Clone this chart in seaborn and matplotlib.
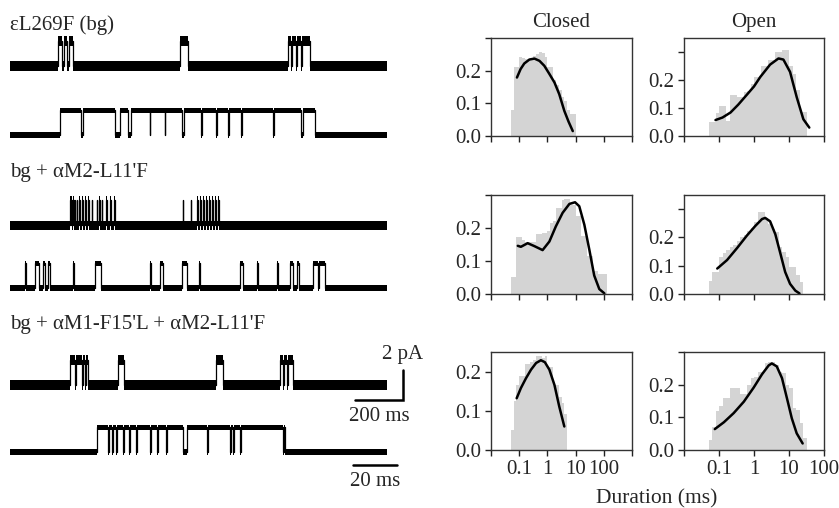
import numpy as np
import matplotlib
matplotlib.use('Agg')
import matplotlib.pyplot as plt
import seaborn as sns

# ---- 单通道记录：开放区间 (ms)，电流幅度 (pA) ----
amp = 1.65
slow_len = 1570
fast_len = 171

row_labels = ['εL269F (bg)', "bg + αM2-L11'F", "bg + αM1-F15'L + αM2-L11'F"]

wt_slow = [(200, 217), (223, 237), (244, 262), (708, 741),
           (1158, 1170), (1176, 1191), (1197, 1212), (1218, 1249)]
wt_fast = [(22.7, 32.2), (32.9, 47.6), (50.1, 53.5), (54.9, 63.3), (63.7, 70.1),
           (70.5, 78.0), (78.7, 86.6), (87.3, 93.4), (94.1, 98.9), (99.3, 104.8),
           (105.2, 119.3), (119.7, 132.0), (132.7, 138.3)]

m2_slow_starts = [250, 255, 262, 269, 278, 289, 300, 314, 326, 340, 361, 371, 382, 400,
                  416, 433, 719, 752, 780, 791, 805, 816, 830, 841, 854, 867]
m2_slow = [(t, t + 3) for t in m2_slow_starts]
m2_fast = [(6.8, 7.2), (11.3, 13.3), (14.8, 15.9), (17.1, 18.1), (28.7, 29.1),
           (38.6, 41.1), (63.5, 63.9), (68.0, 69.3), (77.9, 80.2), (85.9, 86.3),
           (104.3, 105.6), (111.9, 112.3), (121.0, 121.4), (127.0, 128.5),
           (130.1, 131.1), (137.6, 139.9), (140.3, 142.9)]

m1m2_slow = [(250, 271), (275, 299), (303, 312), (317, 326), (451, 476), (858, 886),
             (1124, 1138), (1142, 1155), (1159, 1180)]
m1m2_fast = [(39.5, 44.6), (45.1, 46.1), (46.6, 48.0), (48.4, 51.1), (51.6, 54.1),
             (54.6, 57.2), (57.6, 63.5), (64.0, 66.8), (67.3, 70.6), (71.1, 78.3),
             (80.2, 89.2), (89.7, 99.8), (100.3, 101.3), (101.8, 104.3), (104.8, 123.7),
             (124.2, 124.7)]

# ---- 驻留时间直方图：log10(ms) 起点，0.1 decade 分箱 ----
bin_w = 0.1
closed1_start, closed1_h = -1.3, [0.08, 0.21, 0.21, 0.243, 0.24, 0.235, 0.235, 0.24, 0.245, 0.25,
                                  0.256, 0.255, 0.243, 0.21, 0.21, 0.17, 0.155, 0.14, 0.12, 0.107,
                                  0.08, 0.067, 0.067]
open1_start, open1_h = -1.3, [0.05, 0.05, 0.082, 0.108, 0.108, 0.055, 0.145, 0.145, 0.138, 0.138,
                              0.157, 0.16, 0.184, 0.21, 0.21, 0.25, 0.25, 0.27, 0.272, 0.30,
                              0.30, 0.307, 0.307, 0.25, 0.223, 0.163, 0.084, 0.084]
closed2_start, closed2_h = -1.3, [0.05, 0.05, 0.172, 0.172, 0.165, 0.157, 0.157, 0.157, 0.157, 0.182,
                                  0.182, 0.184, 0.184, 0.19, 0.215, 0.22, 0.26, 0.26, 0.285, 0.288,
                                  0.288, 0.27, 0.27, 0.235, 0.235, 0.175, 0.175, 0.115, 0.115, 0.07,
                                  0.07, 0.06, 0.06, 0.06]
open2_start, open2_h = -1.3, [0.045, 0.079, 0.079, 0.13, 0.145, 0.155, 0.165, 0.175, 0.188, 0.2,
                              0.21, 0.224, 0.235, 0.253, 0.29, 0.29, 0.267, 0.247, 0.23, 0.22,
                              0.167, 0.15, 0.13, 0.096, 0.096, 0.067, 0.041]
closed3_start, closed3_h = -1.3, [0.05, 0.125, 0.165, 0.19, 0.19, 0.22, 0.22, 0.225, 0.23, 0.239,
                                  0.239, 0.235, 0.239, 0.212, 0.212, 0.165, 0.165, 0.136, 0.12, 0.093]
open3_start, open3_h = -1.3, [0.03, 0.07, 0.118, 0.135, 0.16, 0.16, 0.19, 0.19, 0.19, 0.17,
                              0.17, 0.2, 0.22, 0.225, 0.24, 0.24, 0.265, 0.268, 0.268, 0.26,
                              0.24, 0.235, 0.2, 0.19, 0.129, 0.123, 0.082, 0.036]

# 拟合曲线 (log10 ms, 概率)
closed1_fx = [-1.08, -0.95, -0.82, -0.64, -0.46, -0.28, -0.11, 0.07, 0.25, 0.42, 0.60, 0.75, 0.90]
closed1_fy = [0.179, 0.205, 0.222, 0.234, 0.237, 0.23, 0.215, 0.19, 0.164, 0.128, 0.077, 0.044, 0.015]
open1_fx = [-1.10, -0.9, -0.67, -0.45, -0.2, 0.0, 0.18, 0.46, 0.70, 0.84, 1.03, 1.22, 1.41, 1.58]
open1_fy = [0.057, 0.066, 0.084, 0.112, 0.148, 0.177, 0.211, 0.255, 0.277, 0.273, 0.229, 0.139, 0.06, 0.03]
closed2_fx = [-1.05, -0.94, -0.70, -0.46, -0.17, 0.07, 0.30, 0.54, 0.78, 0.98, 1.13, 1.31, 1.49, 1.66, 1.84, 2.02]
closed2_fy = [0.146, 0.143, 0.154, 0.145, 0.133, 0.159, 0.205, 0.246, 0.273, 0.278, 0.266, 0.21, 0.133, 0.056, 0.015, 0.002]
open2_fx = [-1.05, -0.77, -0.48, -0.20, 0.04, 0.23, 0.32, 0.46, 0.61, 0.75, 0.89, 1.03, 1.18, 1.30]
open2_fy = [0.09, 0.12, 0.163, 0.207, 0.241, 0.265, 0.269, 0.257, 0.211, 0.145, 0.078, 0.036, 0.012, 0.002]
closed3_fx = [-1.09, -0.94, -0.76, -0.58, -0.40, -0.23, -0.09, 0.07, 0.25, 0.42, 0.60]
closed3_fy = [0.132, 0.158, 0.183, 0.205, 0.222, 0.229, 0.224, 0.205, 0.166, 0.111, 0.06]
open3_fx = [-1.12, -0.86, -0.58, -0.29, -0.01, 0.23, 0.42, 0.51, 0.65, 0.80, 0.94, 1.08, 1.22, 1.39]
open3_fy = [0.064, 0.085, 0.113, 0.148, 0.191, 0.232, 0.259, 0.265, 0.256, 0.22, 0.159, 0.097, 0.051, 0.02]

# ---- 样式 ----
sns.set_style("ticks")
plt.rcParams['font.family'] = ['Liberation Serif', 'DejaVu Serif']
plt.rcParams['mathtext.fontset'] = 'stix'
FS = 15

W, H = 839, 508
fig = plt.figure(figsize=(W / 100, H / 100), dpi=100)


def rect(l, t, r, b):
    return [l / W, 1 - b / H, (r - l) / W, (b - t) / H]


# ---- 左侧记录 ----
px_per_pA = 15


def draw_trace(yb, openings, length, noise):
    top, bot = yb - 2.5 * px_per_pA, yb + 1.2 * px_per_pA
    ax = fig.add_axes(rect(10, top, 387, bot))
    t, y = [0], [0]
    for a, b in openings:
        t += [a, a, b, b]
        y += [0, amp, amp, 0]
    t.append(length)
    y.append(0)
    t, y = np.array(t, float), np.array(y, float)
    ax.fill_between(t, y - noise, y + noise, color='black', lw=0)
    ax.plot(t, y, color='black', lw=0.9)
    ax.set_xlim(0, length)
    ax.set_ylim(-1.2, 2.5)
    ax.axis('off')
    return ax


draw_trace(66, wt_slow, slow_len, 0.33)
draw_trace(135, wt_fast, fast_len, 0.18)
draw_trace(225, m2_slow, slow_len, 0.3)
draw_trace(288, m2_fast, fast_len, 0.18)
ax_s = draw_trace(385, m1m2_slow, slow_len, 0.33)
ax_f = draw_trace(452, m1m2_fast, fast_len, 0.18)

for lab, yb in zip(row_labels, [30, 177, 329]):
    fig.text(10 / W, 1 - yb / H, lab, fontsize=FS, ha='left', va='baseline')

# 标尺
sb_x, sb_y = 1636, -1.0
ax_s.plot([sb_x - 200, sb_x, sb_x], [sb_y, sb_y, sb_y + 2], color='black', lw=1.8,
          clip_on=False, solid_joinstyle='miter')
ax_s.annotate('2 pA', xy=(sb_x, sb_y + 2), xytext=(0, 4), textcoords='offset points',
              ha='center', va='bottom', fontsize=FS, annotation_clip=False)
ax_s.annotate('200 ms', xy=(sb_x - 100, sb_y), xytext=(0, -5), textcoords='offset points',
              ha='center', va='top', fontsize=FS, annotation_clip=False)
fb_x, fb_y = 155.5, -0.87
ax_f.plot([fb_x, fb_x + 20], [fb_y, fb_y], color='black', lw=1.8, clip_on=False)
ax_f.annotate('20 ms', xy=(fb_x + 10, fb_y), xytext=(0, -5), textcoords='offset points',
              ha='center', va='top', fontsize=FS, annotation_clip=False)

# ---- 右侧直方图 ----
panels = [
    [(closed1_start, closed1_h, closed1_fx, closed1_fy), (open1_start, open1_h, open1_fx, open1_fy)],
    [(closed2_start, closed2_h, closed2_fx, closed2_fy), (open2_start, open2_h, open2_fx, open2_fy)],
    [(closed3_start, closed3_h, closed3_fx, closed3_fy), (open3_start, open3_h, open3_fx, open3_fy)],
]
rows_px = [(38, 136), (195, 294), (352, 450)]
cols_px = [(491, 632), (684, 824)]
ylims = [[0.3, 0.35], [0.3, 0.35], [0.25, 0.3]]
xlims = [(0.01, 1000), (0.01, 100)]
titles = ['Closed', 'Open']

for i, row in enumerate(panels):
    for j, (start, h, fx, fy) in enumerate(row):
        ax = fig.add_axes(rect(cols_px[j][0], rows_px[i][0], cols_px[j][1], rows_px[i][1]))
        lo = start
        hi = start + bin_w * len(h)
        centers = 10 ** (start + bin_w * (np.arange(len(h)) + 0.5))
        sns.histplot(x=centers, weights=np.array(h), bins=len(h), binrange=(lo, hi),
                     log_scale=True, element='step', fill=True, color='#d4d4d4',
                     alpha=1, linewidth=0, ax=ax)
        sns.lineplot(x=10 ** np.array(fx), y=fy, color='black', lw=1.8, ax=ax)
        ax.set_xlim(*xlims[j])
        ax.set_ylim(0, ylims[i][j])
        ax.set_xlabel('')
        ax.set_ylabel('')
        xt = [0.01, 0.1, 1, 10, 100, 1000] if j == 0 else [0.01, 0.1, 1, 10, 100]
        ax.set_xticks(xt)
        ax.minorticks_off()
        if i == 2:
            ax.set_xticklabels(['' if v in (0.01, 1000) else f'{v:g}' for v in xt])
        else:
            ax.set_xticklabels([''] * len(xt))
        yt = [0, 0.1, 0.2] if ylims[i][j] < 0.3 else [0, 0.1, 0.2, 0.3]
        ax.set_yticks(yt)
        ax.set_yticklabels(['0.0', '0.1', '0.2', ''][:len(yt)])
        ax.tick_params(labelsize=FS, length=4, width=1, pad=3, color='#222222')
        for s in ax.spines.values():
            s.set_linewidth(1)
            s.set_color('#333333')
        if i == 0:
            ax.set_title(titles[j], fontsize=FS, pad=8)

fig.text(657 / W, 1 - 503 / H, 'Duration (ms)', fontsize=FS + 0.5, ha='center', va='baseline')

fig.savefig('out.png', dpi=100)
